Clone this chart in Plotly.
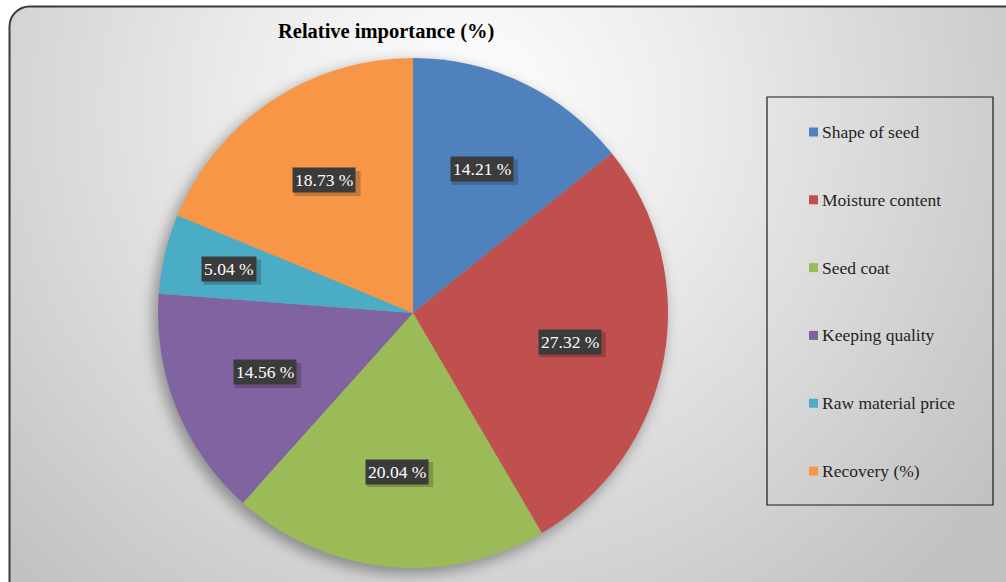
import math
import plotly.graph_objects as go

# ---- data ----
categories = ["Shape of seed", "Moisture content", "Seed coat",
              "Keeping quality", "Raw material price", "Recovery (%)"]
values = [14.21, 27.32, 20.04, 14.56, 5.04, 18.73]
colors = ["#4F81BD", "#C0504D", "#9BBB59", "#8064A2", "#4BACC6", "#F79646"]
title_text = "Relative importance (%)"

# ---- layout geometry (pixels) ----
W, H = 1006, 582
CX, CY, R = 413, 313, 255
FONT = "Liberation Serif, Times New Roman, serif"


def px(x):
    return x / W


def py(y):
    return 1 - y / H


# background (gradient + rounded frame + pie shadow) as an SVG image
svg = f"""<svg xmlns='http://www.w3.org/2000/svg' width='{W}' height='{H}' viewBox='0 0 {W} {H}'>
<defs>
<radialGradient id='g' cx='470' cy='110' r='640' gradientUnits='userSpaceOnUse'>
<stop offset='0' stop-color='#ffffff'/>
<stop offset='0.35' stop-color='#ececec'/>
<stop offset='1' stop-color='#c2c2c2'/>
</radialGradient>
<filter id='b' x='-20%' y='-20%' width='140%' height='140%'><feGaussianBlur stdDeviation='7'/></filter>
</defs>
<rect x='0' y='0' width='{W}' height='{H}' fill='#ffffff'/>
<rect x='9.5' y='6.5' width='1040' height='620' rx='20' ry='20' fill='url(#g)' stroke='#3a3a3a' stroke-width='2'/>
<circle cx='{CX - 4}' cy='{CY + 5}' r='{R + 1}' fill='rgba(0,0,0,0.35)' filter='url(#b)'/>
</svg>"""
svg_uri = "data:image/svg+xml;charset=utf-8," + svg.replace("#", "%23").replace("\n", "")

fig = go.Figure()
fig.add_trace(go.Pie(
    labels=categories,
    values=values,
    marker=dict(colors=colors, line=dict(width=0)),
    sort=False,
    direction="clockwise",
    rotation=0,
    textinfo="none",
    hoverinfo="label+value",
    showlegend=False,
    domain=dict(x=[px(CX - R), px(CX + R)], y=[py(CY + R), py(CY - R)]),
))

annotations = []
shapes = []

# data labels in dark boxes, placed along each slice's mid-angle
total = sum(values)
cum = 0.0
for v in values:
    mid = (cum + v / 2) / total * 2 * math.pi
    cum += v
    frac = 0.625 if v / total >= 0.08 else 0.74
    d = frac * R
    x = CX + d * math.sin(mid)
    y = CY - d * math.cos(mid)
    lab = f"{v:.2f} %"
    # soft box shadow
    bw = len(lab) * 8.9 + 4
    bh = 25
    shapes.append(dict(type="rect", xref="paper", yref="paper", layer="above",
                       x0=px(x - bw / 2 + 3), x1=px(x + bw / 2 + 3),
                       y0=py(y + bh / 2 + 3), y1=py(y - bh / 2 + 3),
                       line=dict(width=0), fillcolor="rgba(0,0,0,0.2)"))
    annotations.append(dict(
        x=px(x), y=py(y), xref="paper", yref="paper", showarrow=False,
        xanchor="center", yanchor="middle",
        text=lab, font=dict(family=FONT, size=17.5, color="#ffffff"),
        bgcolor="#3b3b3b", borderpad=2,
    ))

# title
annotations.append(dict(
    x=px(386), y=py(31), xref="paper", yref="paper", showarrow=False,
    xanchor="center", yanchor="middle",
    text=f"<b>{title_text}</b>", font=dict(family=FONT, size=20.5, color="#000000"),
))

# manual legend
LX0, LY0, LX1, LY1 = 767, 97, 993, 505
shapes.append(dict(type="rect", xref="paper", yref="paper",
                   x0=px(LX0), x1=px(LX1), y0=py(LY1), y1=py(LY0),
                   line=dict(color="#1a1a1a", width=1.2), fillcolor="rgba(0,0,0,0)"))
first_y, step = 132, 67.8
for i, (cat, col) in enumerate(zip(categories, colors)):
    yy = first_y + i * step
    shapes.append(dict(type="rect", xref="paper", yref="paper",
                       x0=px(809), x1=px(818), y0=py(yy + 4.5), y1=py(yy - 4.5),
                       line=dict(width=0), fillcolor=col))
    annotations.append(dict(
        x=px(820), y=py(yy), xref="paper", yref="paper", showarrow=False,
        xanchor="left", yanchor="middle", text=cat,
        font=dict(family=FONT, size=17.5, color="#1f1f1f"),
    ))

fig.update_layout(
    width=W, height=H,
    margin=dict(l=0, r=0, t=0, b=0),
    paper_bgcolor="#ffffff",
    plot_bgcolor="rgba(0,0,0,0)",
    images=[dict(source=svg_uri, xref="paper", yref="paper", x=0, y=1,
                 sizex=1, sizey=1, sizing="stretch", layer="below",
                 xanchor="left", yanchor="top")],
    annotations=annotations,
    shapes=shapes,
    showlegend=False,
)

fig.write_html("out.html")
